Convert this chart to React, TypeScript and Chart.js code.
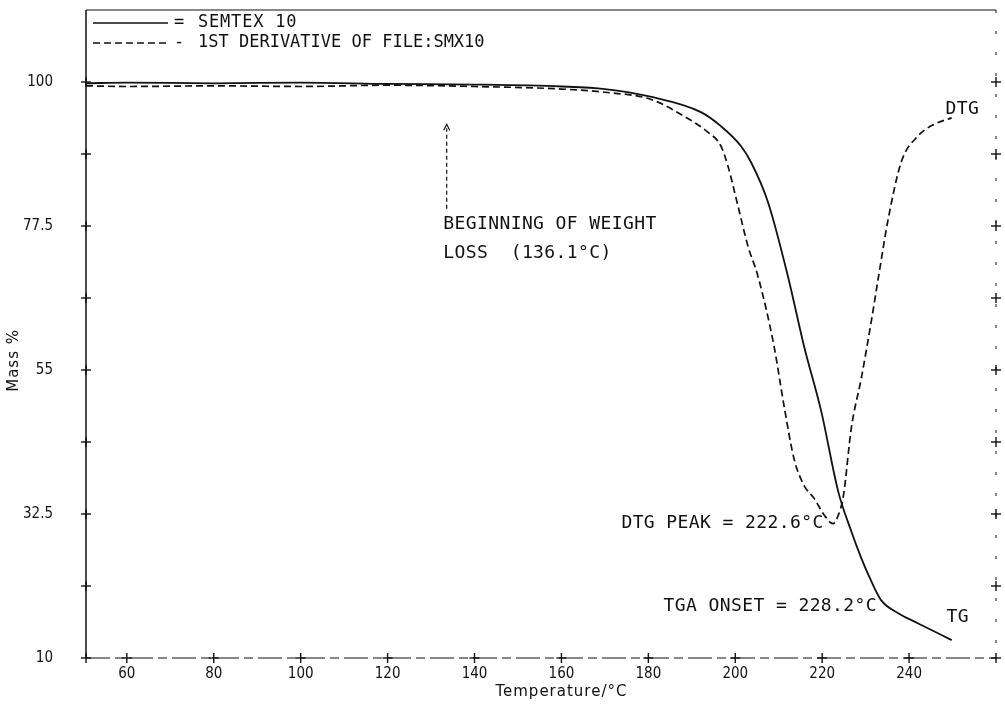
import React, { useEffect, useRef } from 'react';
import { Chart, registerables } from 'chart.js';

Chart.register(...registerables);

// TG (mass %) curve
const tgTemp = [50.6, 60, 80, 100, 120, 140, 160, 170, 180.5, 192.1, 196.7, 201.3, 203.6, 207.5, 212.1, 215.8, 219.8, 223.7, 226.7, 229.0, 231.3, 233.6, 237.5, 242.1, 249.8];
const tgMass = [99.8, 99.9, 99.8, 99.9, 99.7, 99.6, 99.3, 98.9, 97.7, 95.3, 93.1, 90.0, 87.5, 81.3, 69.7, 58.8, 48.5, 36.0, 29.8, 25.6, 22.0, 19.0, 17.0, 15.4, 12.8];

// DTG (1st derivative) curve
const dtgTemp = [50.6, 60, 80, 100, 120, 140, 160, 170, 180.5, 188.1, 193.6, 196.7, 198.3, 200.6, 202.9, 205.2, 208.9, 211.2, 213.5, 215.8, 218.2, 220.5, 222.5, 223.7, 224.9, 226.7, 229.0, 231.3, 232.9, 235.2, 238.2, 242.1, 245.8, 249.8];
const dtgMass = [99.4, 99.3, 99.4, 99.3, 99.5, 99.3, 98.9, 98.4, 97.3, 94.7, 92.2, 90.0, 86.9, 80.7, 74.4, 69.7, 58.8, 49.5, 41.2, 37.0, 34.9, 32.3, 31.0, 32.3, 35.4, 45.9, 53.7, 62.6, 69.3, 78.6, 87.5, 91.6, 93.4, 94.4];

const seriesLabels = ['SEMTEX 10', '1ST DERIVATIVE OF FILE:SMX10'];

const xTicks = [60, 80, 100, 120, 140, 160, 180, 200, 220, 240];
const xTickLabels = ['60', '80', '100', '120', '140', '160', '180', '200', '220', '240'];
const yTicks = [10, 21.25, 32.5, 43.75, 55, 66.25, 77.5, 88.75, 100, 111.25];
const yTickLabels = ['10', '', '32.5', '', '55', '', '77.5', '', '100', ''];

const X_MIN = 50.6;
const X_MAX = 260;
const Y_MIN = 10;
const Y_MAX = 111.25;

const xTitle = 'Temperature/°C';
const yTitle = 'Mass %';

const annotations = [
  { text: 'BEGINNING OF WEIGHT', x: 132.8, y: 77.7 },
  { text: 'LOSS  (136.1°C)', x: 132.8, y: 73.2 },
  { text: 'DTG', x: 248.4, y: 95.8 },
  { text: 'DTG PEAK = 222.6°C', x: 173.8, y: 31.0 },
  { text: 'TGA ONSET = 228.2°C', x: 183.5, y: 18.1 },
  { text: 'TG', x: 248.6, y: 16.4 },
];
const arrowX = 133.6;
const arrowFrom = 80.2;
const arrowTo = 93.4;

const INK = '#111';
const MONO = '"DejaVu Sans Mono", "Liberation Mono", monospace';
const NARROW = '"Liberation Sans Narrow", "DejaVu Sans Condensed", "DejaVu Sans", sans-serif';

const framePlugin = {
  id: 'framePlugin',
  afterDraw(chart: any) {
    const { ctx, chartArea: a } = chart;
    const xs = chart.scales.x;
    const ys = chart.scales.y;
    const line = (x1: number, y1: number, x2: number, y2: number, w: number, dash: number[]) => {
      ctx.beginPath();
      ctx.lineWidth = w;
      ctx.setLineDash(dash);
      ctx.moveTo(x1, y1);
      ctx.lineTo(x2, y2);
      ctx.stroke();
    };
    const cross = (cx: number, cy: number) => {
      line(cx - 5, cy, cx + 5, cy, 1.4, []);
      line(cx, cy - 5, cx, cy + 5, 1.4, []);
    };
    ctx.save();
    ctx.strokeStyle = INK;
    ctx.fillStyle = INK;
    // frame
    line(a.left, a.top, a.left, a.bottom, 1.5, []);
    line(a.left, a.top, a.right, a.top, 1.2, []);
    line(a.right, a.top, a.right, a.bottom, 1, [3, 18]);
    line(a.left, a.bottom, a.right, a.bottom, 1.2, [24, 5, 9, 5]);
    // tick crosses
    yTicks.forEach((v) => {
      if (v >= Y_MAX) return;
      const py = ys.getPixelForValue(v);
      cross(a.left, py);
      cross(a.right, py);
    });
    xTicks.forEach((v) => cross(xs.getPixelForValue(v), a.bottom));

    // legend
    const ds = chart.data.datasets;
    const lx1 = a.left + 7;
    const lx2 = a.left + 82;
    const ly1 = a.top + 13;
    const ly2 = a.top + 33;
    line(lx1, ly1, lx2, ly1, 1.6, []);
    line(lx1, ly2, lx2, ly2, 1.3, [7, 4]);
    ctx.setLineDash([]);
    ctx.font = `17px ${MONO}`;
    ctx.textAlign = 'left';
    ctx.textBaseline = 'middle';
    ctx.fillText('=', a.left + 88, ly1);
    ctx.fillText('-', a.left + 88, ly2);
    (ctx as any).letterSpacing = '0.8px';
    ctx.fillText(ds[0].label, a.left + 112, ly1);
    (ctx as any).letterSpacing = '0px';
    ctx.fillText(ds[1].label, a.left + 112, ly2);

    // arrow
    const ax = xs.getPixelForValue(arrowX);
    const ay1 = ys.getPixelForValue(arrowFrom);
    const ay2 = ys.getPixelForValue(arrowTo);
    line(ax, ay1, ax, ay2 + 4, 1.2, [4, 3]);
    ctx.setLineDash([]);
    ctx.beginPath();
    ctx.lineWidth = 1.2;
    ctx.moveTo(ax - 3, ay2 + 6);
    ctx.lineTo(ax, ay2);
    ctx.lineTo(ax + 3, ay2 + 6);
    ctx.stroke();

    // annotations
    ctx.font = `18px ${MONO}`;
    (ctx as any).letterSpacing = '0.4px';
    annotations.forEach((t) => {
      ctx.fillText(t.text, xs.getPixelForValue(t.x), ys.getPixelForValue(t.y));
    });

    // axis titles
    ctx.font = `15px "DejaVu Sans", sans-serif`;
    (ctx as any).letterSpacing = '1px';
    ctx.textAlign = 'center';
    ctx.fillText(xTitle, xs.getPixelForValue(160), a.bottom + 34);
    ctx.save();
    ctx.translate(a.left - 72, ys.getPixelForValue(56.5));
    ctx.rotate(-Math.PI / 2);
    ctx.fillText(yTitle, 0, 0);
    ctx.restore();
    (ctx as any).letterSpacing = '0px';
    ctx.restore();
  },
};

export default function App() {
  const ref = useRef<HTMLCanvasElement | null>(null);
  useEffect(() => {
    if (!ref.current) return;
    const chart = new Chart(ref.current, {
      type: 'line',
      data: {
        datasets: [
          {
            label: seriesLabels[0],
            data: tgTemp.map((t, i) => ({ x: t, y: tgMass[i] })),
            borderColor: INK,
            borderWidth: 1.8,
            pointRadius: 0,
            cubicInterpolationMode: 'monotone',
            fill: false,
          },
          {
            label: seriesLabels[1],
            data: dtgTemp.map((t, i) => ({ x: t, y: dtgMass[i] })),
            borderColor: INK,
            borderWidth: 1.7,
            borderDash: [7, 4],
            pointRadius: 0,
            cubicInterpolationMode: 'monotone',
            fill: false,
          },
        ],
      },
      options: {
        responsive: false,
        animation: false,
        layout: { padding: { left: 0, right: 9, top: 10, bottom: 0 } },
        plugins: { legend: { display: false }, tooltip: { enabled: false } },
        scales: {
          x: {
            type: 'linear',
            min: X_MIN,
            max: X_MAX,
            grid: { display: false, drawTicks: false },
            border: { display: false },
            afterBuildTicks: (s: any) => {
              s.ticks = xTicks.map((v) => ({ value: v }));
            },
            afterFit: (s: any) => {
              s.height = 47;
              s.paddingLeft = 0;
              s.paddingRight = 0;
            },
            ticks: {
              autoSkip: false,
              maxRotation: 0,
              padding: 7,
              color: INK,
              font: { family: NARROW, size: 15 },
              callback: (_v: any, i: number) => xTickLabels[i],
            },
          },
          y: {
            type: 'linear',
            min: Y_MIN,
            max: Y_MAX,
            grid: { display: false, drawTicks: false },
            border: { display: false },
            afterBuildTicks: (s: any) => {
              s.ticks = yTicks.map((v) => ({ value: v }));
            },
            afterFit: (s: any) => {
              s.width = 86;
              s.paddingTop = 0;
              s.paddingBottom = 0;
            },
            ticks: {
              autoSkip: false,
              padding: 33,
              color: INK,
              font: { family: NARROW, size: 15 },
              callback: (_v: any, i: number) => yTickLabels[i],
            },
          },
        },
      },
      plugins: [framePlugin],
    } as any);
    return () => chart.destroy();
  }, []);
  return (
    <div style={{ position: 'absolute', left: 0, top: 0, width: 1005, height: 705, background: '#fff' }}>
      <canvas ref={ref} width={1005} height={705} />
    </div>
  );
}
